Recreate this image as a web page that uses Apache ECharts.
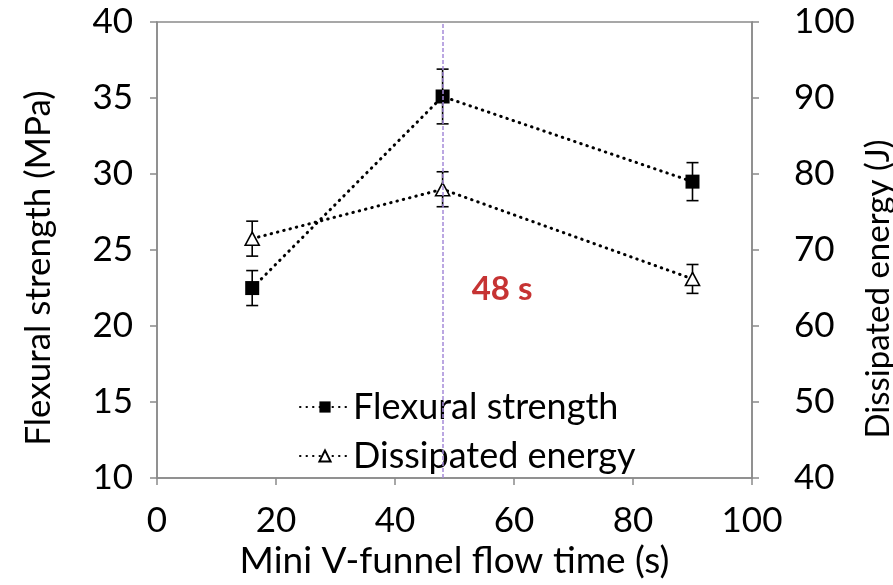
<!DOCTYPE html>
<html>
<head>
<meta charset="utf-8">
<script src="https://cdn.jsdelivr.net/npm/echarts@6/dist/echarts.min.js"></script>
<style>
  html, body { margin: 0; padding: 0; background: #fff; }
  #chart { width: 893px; height: 585px; }
</style>
</head>
<body>
<div id="chart"></div>
<script>
// Mini V-funnel flow time (s)
const flowTime = [16, 48, 90];
// Flexural strength (MPa) and its standard deviation
const flexural = [22.5, 35.1, 29.5];
const flexuralErr = [1.15, 1.8, 1.25];
// Dissipated energy (J) and its standard deviation
const energy = [71.5, 78.0, 66.2];
const energyErr = [2.3, 2.3, 1.9];
// Optimum flow time marker
const optimumTime = 48;
const optimumLabel = '48 s';
const optimumLabelPos = [58, 22.4];

const FONT = 'Lato';
const AXIS_GREY = '#8a8a8a';
const TICK_SIZE = 35;
const TITLE_SIZE = 36;

const pairs = (xs, ys) => xs.map((x, i) => [x, ys[i]]);
const errRows = (xs, ys, es) => xs.map((x, i) => [x, ys[i] - es[i], ys[i] + es[i]]);

function errorBar(params, api) {
  const x = api.value(0);
  const lo = api.coord([x, api.value(1)]);
  const hi = api.coord([x, api.value(2)]);
  const half = 6;
  const style = { stroke: '#000', lineWidth: 1.6 };
  return {
    type: 'group',
    children: [
      { type: 'line', shape: { x1: lo[0], y1: lo[1], x2: hi[0], y2: hi[1] }, style },
      { type: 'line', shape: { x1: lo[0] - half, y1: lo[1], x2: lo[0] + half, y2: lo[1] }, style },
      { type: 'line', shape: { x1: hi[0] - half, y1: hi[1], x2: hi[0] + half, y2: hi[1] }, style }
    ]
  };
}

const dotted = { color: '#000', width: 3, type: [0.5, 6], cap: 'round' };

const chart = echarts.init(document.getElementById('chart'), null, { renderer: 'canvas' });
chart.setOption({
  animation: false,
  textStyle: { fontFamily: FONT },
  grid: {
    left: 157, right: 141, top: 22, bottom: 102,
    show: true, borderColor: AXIS_GREY, borderWidth: 1.5, backgroundColor: 'transparent'
  },
  legend: {
    orient: 'vertical',
    left: 294, top: 384,
    itemGap: 13,
    itemWidth: 50, itemHeight: 14,
    data: ['Flexural strength', 'Dissipated energy'],
    textStyle: { fontFamily: FONT, fontSize: TITLE_SIZE, color: '#000', padding: [0, 0, 0, -2] }
  },
  xAxis: {
    type: 'value', min: 0, max: 100, interval: 20,
    name: 'Mini V-funnel flow time (s)',
    nameLocation: 'middle', nameGap: 62,
    nameTextStyle: { fontFamily: FONT, fontSize: 37, color: '#000' },
    axisLine: { lineStyle: { color: AXIS_GREY, width: 1.5 } },
    axisTick: { length: 7, lineStyle: { color: AXIS_GREY, width: 1.5 } },
    axisLabel: { fontFamily: FONT, fontSize: TICK_SIZE, color: '#000', margin: 25 },
    splitLine: { show: false }
  },
  yAxis: [
    {
      type: 'value', min: 10, max: 40, interval: 5, position: 'left',
      axisLine: { show: true, lineStyle: { color: AXIS_GREY, width: 1.5 } },
      axisTick: { show: true, length: 7, lineStyle: { color: AXIS_GREY, width: 1.5 } },
      axisLabel: { fontFamily: FONT, fontSize: TICK_SIZE, color: '#000', margin: 24 },
      splitLine: { show: false }
    },
    {
      type: 'value', min: 40, max: 100, interval: 10, position: 'right',
      axisLine: { show: true, lineStyle: { color: AXIS_GREY, width: 1.5 } },
      axisTick: { show: true, length: 7, lineStyle: { color: AXIS_GREY, width: 1.5 } },
      axisLabel: { fontFamily: FONT, fontSize: TICK_SIZE, color: '#000', margin: 42 },
      splitLine: { show: false }
    }
  ],
  graphic: [
    {
      type: 'text', x: 39, y: 268, rotation: Math.PI / 2,
      style: { text: 'Flexural strength (MPa)', fontFamily: FONT, fontSize: 35, fill: '#000',
               align: 'center', verticalAlign: 'middle' }
    },
    {
      type: 'text', x: 878, y: 289, rotation: Math.PI / 2,
      style: { text: 'Dissipated energy (J)', fontFamily: FONT, fontSize: 33, fill: '#000',
               align: 'center', verticalAlign: 'middle' }
    }
  ],
  series: [
    {
      name: 'Flexural strength', type: 'line', yAxisIndex: 0, z: 3,
      data: pairs(flowTime, flexural),
      symbol: 'rect', symbolSize: 14,
      itemStyle: { color: '#000' },
      lineStyle: dotted,
      markLine: {
        silent: true, symbol: 'none',
        label: { show: false },
        lineStyle: { color: '#a58ad9', width: 1.5, type: [4, 2] },
        data: [{ xAxis: optimumTime }]
      }
    },
    {
      name: 'Dissipated energy', type: 'line', yAxisIndex: 1, z: 3,
      data: pairs(flowTime, energy),
      symbol: 'triangle', symbolSize: [14, 13],
      itemStyle: { color: '#fff', borderColor: '#000', borderWidth: 1.6 },
      lineStyle: dotted
    },
    {
      name: 'flexural-err', type: 'custom', yAxisIndex: 0, z: 2,
      renderItem: errorBar, data: errRows(flowTime, flexural, flexuralErr)
    },
    {
      name: 'energy-err', type: 'custom', yAxisIndex: 1, z: 2,
      renderItem: errorBar, data: errRows(flowTime, energy, energyErr)
    },
    {
      name: 'optimum-label', type: 'scatter', yAxisIndex: 0, symbolSize: 0,
      data: [optimumLabelPos],
      label: {
        show: true, position: 'inside', formatter: optimumLabel,
        fontFamily: FONT, fontSize: 33, fontWeight: 'bold', color: '#b80000'
      }
    }
  ]
});
</script>
</body>
</html>
